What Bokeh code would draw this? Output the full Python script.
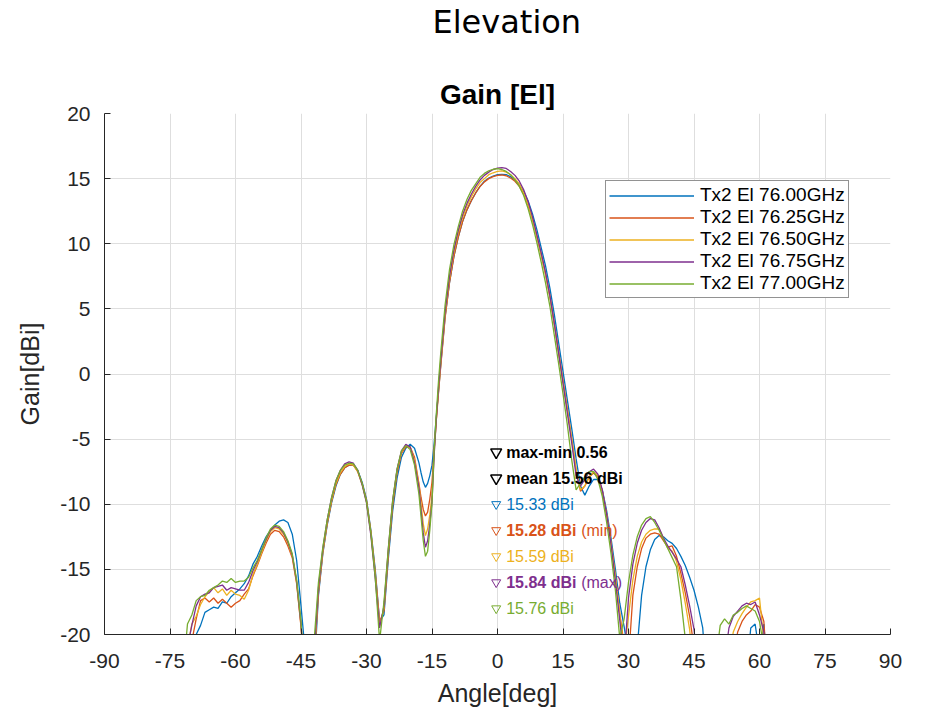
from bokeh.plotting import figure
from bokeh.models import Range1d, FixedTicker, Legend, LegendItem, Title
from bokeh.core.properties import value
from bokeh.embed import file_html
from bokeh.resources import INLINE

# ---------------- data ----------------
angle = ([float(a) for a in range(-73, -17)]
         + [-17.5, -17.0, -16.5, -16.0, -15.5, -15.0, -14.5, -14.0, -13.5, -13.0]
         + [float(a) for a in range(-12, 64)])

gain_76_00 = [
    # -73 .. -44
    -30, -30, -26, -22, -20.0, -19.3, -18.3, -18.1, -17.9, -18.0, -17.5, -17.6, -17.1, -16.8, -16.5,
    -16.1, -15.5, -14.6, -14.0, -13.2, -12.5, -12.0, -11.6, -11.3, -11.2, -11.4, -12.3, -14.3, -17.8, -21.5,
    # -43 .. -18
    -27, -23, -17.0, -13.8, -11.6, -9.9, -8.6, -7.7, -7.2, -7.0, -7.0, -7.4, -8.3, -9.6, -12.0, -15.0,
    -19.0, -18.5, -14.2, -10.5, -8.0, -6.4, -5.7, -5.4, -5.7, -6.8,
    # -17.5 .. -13
    -7.6, -8.3, -8.7, -8.4, -7.8, -7.0, -5.3, -3.2, -1.3, 0.7,
    # -12 .. 12
    4.4, 7.0, 9.0, 10.5, 11.7, 12.6, 13.3, 13.9, 14.4, 14.8, 15.05, 15.2, 15.3, 15.33, 15.3, 15.15, 14.9,
    14.55, 14.0, 13.3, 12.3, 11.1, 9.7, 8.3, 6.6,
    # 13 .. 30
    4.6, 2.4, 0.2, -2.0, -4.2, -6.5, -8.6, -9.3, -8.6, -8.1, -8.1, -8.9, -10.5, -12.6, -15.0, -17.6, -19.4, -21.5,
    # 31 .. 47
    -26, -21, -17, -14.8, -13.5, -12.7, -12.4, -12.5, -12.8, -13.0, -13.4, -14.0, -14.7, -15.6, -16.6, -17.9, -19.5,
    # 48 .. 63
    -24, -30, -30, -30, -30, -30, -30, -30, -30, -23, -19.5, -19.2, -21.5, -19.2, -24, -30,
]

gain_76_25 = [
    -30, -28, -22, -20.5, -18.8, -17.4, -17.2, -17.5, -17.2, -17.6, -17.3, -17.6, -17.9, -17.6, -17.4,
    -16.9, -16.5, -15.5, -14.7, -13.8, -13.0, -12.3, -12.0, -12.1, -12.5, -13.2, -14.1, -16.1, -19.4, -24,
    -28, -22, -16.8, -13.7, -11.5, -9.8, -8.5, -7.7, -7.2, -7.0, -7.0, -7.5, -8.4, -9.7, -12.1, -15.2,
    -19.0, -18.2, -13.9, -10.1, -7.6, -6.1, -5.6, -5.6, -6.4, -8.4,
    -9.5, -10.4, -10.9, -10.6, -9.6, -8.3, -5.8, -3.5, -1.4, 0.6,
    4.3, 7.0, 9.0, 10.5, 11.7, 12.6, 13.3, 13.9, 14.4, 14.75, 15.0, 15.15, 15.25, 15.28, 15.22, 15.05, 14.8,
    14.4, 13.8, 12.95, 11.9, 10.6, 9.2, 7.7, 6.0,
    3.9, 1.7, -0.5, -2.7, -5.0, -7.4, -9.0, -8.6, -7.9, -7.6, -7.9, -9.0, -10.8, -13.0, -15.6, -18.4, -20.8, -22,
    -17.0, -14.8, -13.4, -12.6, -12.3, -12.2, -12.3, -12.8, -13.3, -13.2, -14.0, -15.3, -16.8, -18.6, -21, -27, -30,
    -30, -30, -30, -30, -30, -30, -22, -19.8, -19.0, -18.5, -18.2, -17.7, -17.9, -19.0, -24, -30,
]

gain_76_50 = [
    -30, -26, -21, -19.2, -18.6, -17.7, -17.1, -16.7, -16.4, -16.8, -16.5, -17.0, -16.6, -16.9, -17.0,
    -17.3, -16.6, -15.4, -14.6, -13.7, -12.8, -12.1, -11.8, -11.9, -12.3, -13.0, -14.0, -16.0, -19.3, -24,
    -28, -22, -16.6, -13.6, -11.4, -9.7, -8.4, -7.6, -7.1, -6.9, -7.0, -7.5, -8.5, -9.8, -12.2, -15.4,
    -19.3, -18.0, -13.6, -9.8, -7.4, -6.0, -5.5, -5.6, -6.6, -8.5,
    -10.0, -11.5, -12.4, -11.9, -10.8, -9.3, -6.0, -3.4, -1.2, 0.8,
    4.6, 7.3, 9.3, 10.8, 12.0, 12.9, 13.6, 14.2, 14.7, 15.0, 15.3, 15.45, 15.55, 15.59, 15.5, 15.3, 15.0,
    14.6, 13.9, 13.0, 11.9, 10.5, 9.1, 7.6, 5.9,
    3.8, 1.6, -0.6, -2.8, -5.0, -7.3, -8.9, -8.6, -7.9, -7.5, -7.8, -9.0, -10.8, -13.0, -15.6, -18.4, -21.5, -18.6,
    -15.8, -14.0, -12.9, -12.3, -12.0, -11.9, -11.9, -12.6, -13.4, -13.6, -14.4, -15.8, -17.6, -19.6, -23, -28, -30,
    -30, -30, -30, -30, -30, -22, -19.8, -19.0, -18.4, -17.9, -17.5, -17.4, -17.2, -20.5, -25, -30,
]

gain_76_75 = [
    -30, -25, -21, -19.3, -17.8, -17.1, -16.9, -16.8, -16.4, -16.3, -16.2, -16.6, -16.4, -16.5, -16.6,
    -16.6, -16.0, -15.1, -14.4, -13.5, -12.7, -12.0, -11.7, -11.8, -12.2, -12.9, -13.9, -15.9, -19.2, -24,
    -27, -21.5, -16.4, -13.4, -11.2, -9.5, -8.2, -7.4, -6.9, -6.75, -6.85, -7.4, -8.5, -9.9, -12.4, -15.7,
    -19.5, -17.8, -13.4, -9.7, -7.3, -5.9, -5.4, -5.6, -6.8, -8.7,
    -10.5, -12.2, -13.3, -12.8, -11.5, -9.8, -6.2, -3.4, -1.0, 1.0,
    4.8, 7.5, 9.5, 11.0, 12.2, 13.1, 13.8, 14.4, 14.9, 15.25, 15.5, 15.7, 15.8, 15.84, 15.78, 15.55, 15.25,
    14.8, 14.15, 13.25, 12.1, 10.7, 9.3, 7.8, 6.0,
    3.9, 1.6, -0.7, -3.0, -5.3, -7.8, -8.6, -8.1, -7.5, -7.3, -7.7, -8.9, -10.8, -13.1, -15.9, -18.9, -22, -17.2,
    -14.6, -13.0, -12.0, -11.4, -11.1, -11.2, -11.8, -12.6, -13.2, -13.7, -14.2, -14.8, -16.2, -17.8, -19.6, -23, -28,
    -30, -30, -30, -30, -22, -19.5, -18.6, -18.2, -17.8, -17.6, -17.7, -17.5, -18.5, -19.8, -25, -30,
]

gain_77_00 = [
    -30, -23, -19.2, -18.5, -17.4, -17.1, -17.0, -16.6, -16.4, -16.2, -15.9, -16.0, -15.7, -16.0, -15.9,
    -15.9, -15.6, -14.9, -14.3, -13.5, -12.6, -11.9, -11.6, -11.7, -12.1, -12.8, -13.8, -15.8, -19.0, -24,
    -25, -20.5, -16.0, -13.3, -11.2, -9.5, -8.2, -7.4, -7.0, -6.85, -6.9, -7.4, -8.4, -9.8, -12.2, -15.6,
    -20.5, -17.5, -13.4, -9.7, -7.3, -5.9, -5.5, -5.8, -7.0, -9.2,
    -11.0, -12.8, -14.0, -13.6, -12.0, -9.9, -5.8, -3.0, -0.5, 1.6,
    5.3, 8.0, 9.9, 11.3, 12.5, 13.4, 14.1, 14.6, 15.1, 15.4, 15.6, 15.72, 15.76, 15.7, 15.55, 15.3, 14.9,
    14.4, 13.7, 12.7, 11.5, 10.1, 8.6, 7.0, 5.2,
    3.0, 0.8, -1.5, -3.9, -6.6, -8.9, -8.4, -7.9, -7.5, -7.5, -8.1, -9.4, -11.4, -13.8, -16.6, -20.3, -18.8, -16.0,
    -13.9, -12.5, -11.6, -11.1, -10.95, -11.4, -12.0, -12.7, -13.4, -14.1, -14.8, -17.3, -20.3, -25, -30, -30, -30,
    -30, -30, -22, -19.3, -18.8, -19.2, -18.5, -18.3, -18.0, -17.8, -18.0, -18.2, -19.0, -21, -26, -30,
]

series_names = ["Tx2 El 76.00GHz", "Tx2 El 76.25GHz", "Tx2 El 76.50GHz",
                "Tx2 El 76.75GHz", "Tx2 El 77.00GHz"]
series_values = [gain_76_00, gain_76_25, gain_76_50, gain_76_75, gain_77_00]
series_colors = ["#0072BD", "#D95319", "#EDB120", "#7E2F8E", "#77AC30"]

peak_gain = [15.33, 15.28, 15.59, 15.84, 15.76]
peak_tags = ["", "(min)", "", "(max)", ""]
summary_texts = ["max-min 0.56", "mean 15.56 dBi"]

x_ticks = [-90, -75, -60, -45, -30, -15, 0, 15, 30, 45, 60, 75, 90]
x_tick_labels = ["-90", "-75", "-60", "-45", "-30", "-15", "0", "15", "30", "45", "60", "75", "90"]
y_ticks = [-20, -15, -10, -5, 0, 5, 10, 15, 20]
y_tick_labels = ["-20", "-15", "-10", "-5", "0", "5", "10", "15", "20"]

# ---------------- figure ----------------
FONT = "Liberation Sans"
DARK = "#262626"

p = figure(width=912, height=710, x_range=Range1d(-90, 90), y_range=Range1d(-20, 20),
           title=None, output_backend="svg", toolbar_location=None,
           min_border_left=104, min_border_right=22, min_border_top=112, min_border_bottom=76)
p.outline_line_color = None
p.background_fill_color = "white"

for ax in (p.xaxis[0], p.yaxis[0]):
    ax.axis_line_color = DARK
    ax.major_tick_line_color = DARK
    ax.major_tick_in = 6
    ax.major_tick_out = 0
    ax.minor_tick_line_color = None
    ax.major_label_text_font = FONT
    ax.major_label_text_font_size = "21px"
    ax.major_label_text_color = DARK
    ax.axis_label_text_font = FONT
    ax.axis_label_text_font_size = "25px"
    ax.axis_label_text_font_style = "normal"
    ax.axis_label_text_color = DARK

p.xaxis.ticker = FixedTicker(ticks=x_ticks)
p.yaxis.ticker = FixedTicker(ticks=y_ticks)
p.xaxis.major_label_overrides = {t: l for t, l in zip(x_ticks, x_tick_labels)}
p.yaxis.major_label_overrides = {t: l for t, l in zip(y_ticks, y_tick_labels)}
p.xaxis.axis_label = "Angle[deg]"
p.yaxis.axis_label = "Gain[dBi]"
p.xaxis.major_label_standoff = 19
p.xaxis.axis_label_standoff = 8
p.yaxis.major_label_standoff = 14
p.yaxis.axis_label_standoff = 13

p.grid.grid_line_color = "#dedede"
p.grid.grid_line_width = 1

items = []
for name, vals, col in zip(series_names, series_values, series_colors):
    r = p.line(angle, vals, line_color=col, line_width=1.3)
    items.append(LegendItem(label=name, renderers=[r]))

legend = Legend(items=items, location=(501, 336))
legend.label_text_font = FONT
legend.label_text_font_size = "19px"
legend.label_text_color = "black"
legend.glyph_width = 85
legend.glyph_height = 21
legend.label_height = 21
legend.label_standoff = 6
legend.spacing = 0
legend.padding = 3
legend.margin = 0
legend.border_line_color = DARK
legend.border_line_width = 1
legend.background_fill_alpha = 1
p.add_layout(legend, "center")

# ---------------- annotations ----------------
mark_x = -0.3
sum_y = [-6.0, -8.0]
p.scatter([mark_x] * 2, sum_y, marker="inverted_triangle", size=11, fill_color=None,
          line_color="black", line_width=1.5)
p.text([mark_x] * 2, sum_y, text=summary_texts, x_offset=10, text_baseline="middle",
       text_font=value(FONT), text_font_size="16px", text_font_style="bold", text_color="black")

peak_y = [-10.0, -12.0, -14.0, -16.0, -18.0]
for yv, g, tag, col in zip(peak_y, peak_gain, peak_tags, series_colors):
    p.scatter([mark_x], [yv], marker="inverted_triangle", size=9, fill_color=None,
              line_color=col, line_width=1)
    bold = "bold" if tag else "normal"
    p.text([mark_x], [yv], text=[f"{g:.2f} dBi"], x_offset=10, text_baseline="middle",
           text_font=value(FONT), text_font_size="16px", text_font_style=bold, text_color=col)
    if tag:
        p.text([mark_x], [yv], text=[tag], x_offset=85, text_baseline="middle",
               text_font=value(FONT), text_font_size="16px", text_font_style="normal", text_color=col)

# titles: first added sits next to the frame
p.add_layout(Title(text="Gain [El]", align="center", text_font=FONT, text_font_size="28px",
                   text_font_style="bold", text_color="black", standoff=8), "above")
# the trailing empty line leaves the gap between the two titles
p.add_layout(Title(text="Elevation\n", align="left", text_font="DejaVu Sans",
                   text_font_size="32px", text_font_style="normal", text_color="black",
                   text_line_height=0.8, standoff=2, offset=328), "above")

open("out.html", "w").write(file_html(p, INLINE))
